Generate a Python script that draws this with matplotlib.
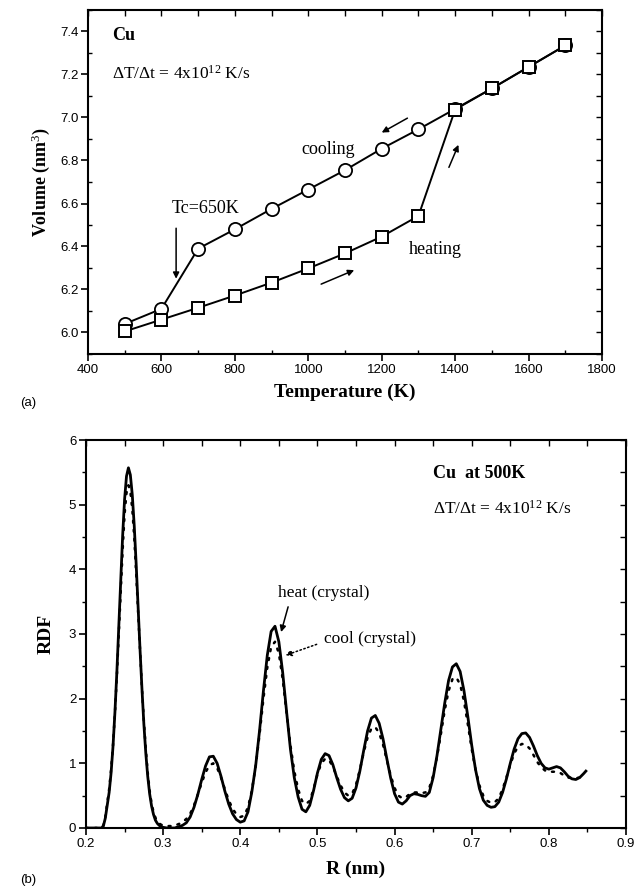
import matplotlib
matplotlib.use("Agg")
import matplotlib.pyplot as plt
from matplotlib.ticker import MultipleLocator

# ---------------- data: panel (a) ----------------
temperature = [500, 600, 700, 800, 900, 1000, 1100, 1200, 1300, 1400, 1500, 1600, 1700]
vol_cooling = [6.04, 6.11, 6.39, 6.48, 6.575, 6.665, 6.755, 6.855, 6.945, 7.04, 7.135, 7.235, 7.335]
vol_heating = [6.005, 6.06, 6.115, 6.172, 6.232, 6.298, 6.368, 6.446, 6.542, 7.037, 7.135, 7.235, 7.335]

# ---------------- data: panel (b) ----------------
r_nm = [0.200, 0.205, 0.210, 0.215, 0.220,
        0.2225, 0.2250, 0.2275, 0.2300, 0.2325, 0.2350, 0.2375, 0.2400, 0.2425, 0.2450,
        0.2475, 0.2500, 0.2525, 0.2550, 0.2575, 0.2600, 0.2625, 0.2650, 0.2675, 0.2700,
        0.2725, 0.2750, 0.2775, 0.2800, 0.2825, 0.2850, 0.2875, 0.2900, 0.2925, 0.2950,
        0.2975, 0.3000,
        0.305, 0.310, 0.315, 0.320, 0.325, 0.330, 0.335, 0.340, 0.345, 0.350,
        0.355, 0.360, 0.365, 0.370, 0.375, 0.380, 0.385, 0.390, 0.395, 0.400,
        0.405, 0.410, 0.415, 0.420, 0.425, 0.430, 0.435, 0.440, 0.445, 0.450,
        0.455, 0.460, 0.465, 0.470, 0.475, 0.480, 0.485, 0.490, 0.495, 0.500,
        0.505, 0.510, 0.515, 0.520, 0.525, 0.530, 0.535, 0.540, 0.545, 0.550,
        0.555, 0.560, 0.565, 0.570, 0.575, 0.580, 0.585, 0.590, 0.595, 0.600,
        0.605, 0.610, 0.615, 0.620, 0.625, 0.630, 0.635, 0.640, 0.645, 0.650,
        0.655, 0.660, 0.665, 0.670, 0.675, 0.680, 0.685, 0.690, 0.695, 0.700,
        0.705, 0.710, 0.715, 0.720, 0.725, 0.730, 0.735, 0.740, 0.745, 0.750,
        0.755, 0.760, 0.765, 0.770, 0.775, 0.780, 0.785, 0.790, 0.795, 0.800,
        0.805, 0.810, 0.815, 0.820, 0.825, 0.830, 0.835, 0.840, 0.845, 0.848]

rdf_heat = [0.0, 0.0, 0.0, 0.0, 0.0,
            0.03, 0.15, 0.35, 0.55, 0.85, 1.26, 1.79, 2.41, 3.12, 3.84,
            4.52, 5.08, 5.44, 5.57, 5.46, 5.15, 4.68, 4.09, 3.43, 2.77,
            2.16, 1.61, 1.16, 0.80, 0.53, 0.34, 0.21, 0.12, 0.07, 0.04,
            0.02, 0.01,
            0.0, 0.0, 0.0, 0.02, 0.04, 0.08, 0.17, 0.32, 0.52, 0.75,
            0.96, 1.10, 1.11, 1.00, 0.80, 0.57, 0.37, 0.22, 0.13, 0.09,
            0.11, 0.25, 0.56, 0.97, 1.51, 2.12, 2.67, 3.04, 3.12, 2.88,
            2.40, 1.80, 1.22, 0.78, 0.48, 0.29, 0.25, 0.35, 0.58, 0.85,
            1.06, 1.15, 1.12, 0.98, 0.78, 0.60, 0.47, 0.42, 0.46, 0.62,
            0.88, 1.20, 1.50, 1.70, 1.74, 1.62, 1.38, 1.07, 0.77, 0.53,
            0.40, 0.37, 0.42, 0.50, 0.53, 0.52, 0.50, 0.49, 0.55, 0.78,
            1.12, 1.52, 1.93, 2.28, 2.49, 2.54, 2.42, 2.12, 1.72, 1.28,
            0.90, 0.61, 0.43, 0.35, 0.32, 0.33, 0.40, 0.55, 0.76, 1.00,
            1.22, 1.38, 1.46, 1.47, 1.40, 1.27, 1.12, 1.00, 0.93, 0.91,
            0.93, 0.95, 0.93, 0.87, 0.80, 0.76, 0.75, 0.78, 0.84, 0.88]

rdf_cool = [0.0, 0.0, 0.0, 0.0, 0.0,
            0.04, 0.17, 0.38, 0.60, 0.90, 1.28, 1.77, 2.35, 3.00, 3.68,
            4.30, 4.85, 5.18, 5.30, 5.20, 4.93, 4.50, 3.95, 3.35, 2.75,
            2.17, 1.66, 1.22, 0.86, 0.58, 0.38, 0.25, 0.16, 0.10, 0.07,
            0.05, 0.04,
            0.03, 0.03, 0.04, 0.06, 0.09, 0.14, 0.22, 0.35, 0.52, 0.70,
            0.86, 0.97, 1.00, 0.93, 0.78, 0.60, 0.43, 0.30, 0.21, 0.17,
            0.19, 0.32, 0.58, 0.96, 1.45, 2.00, 2.48, 2.80, 2.88, 2.70,
            2.30, 1.78, 1.28, 0.88, 0.60, 0.42, 0.37, 0.42, 0.60, 0.83,
            1.00, 1.07, 1.05, 0.95, 0.80, 0.66, 0.55, 0.50, 0.53, 0.67,
            0.90, 1.17, 1.40, 1.54, 1.56, 1.47, 1.29, 1.05, 0.81, 0.62,
            0.50, 0.46, 0.48, 0.53, 0.55, 0.55, 0.54, 0.55, 0.62, 0.81,
            1.10, 1.45, 1.82, 2.12, 2.30, 2.33, 2.22, 1.96, 1.60, 1.22,
            0.90, 0.66, 0.50, 0.42, 0.39, 0.40, 0.46, 0.60, 0.78, 0.98,
            1.15, 1.26, 1.30, 1.29, 1.23, 1.13, 1.02, 0.94, 0.89, 0.87,
            0.87, 0.87, 0.85, 0.81, 0.78, 0.77, 0.77, 0.78, None, None]

SERIF = ["Liberation Serif", "DejaVu Serif"]
SANS = ["Liberation Sans", "DejaVu Sans"]
plt.rcParams["font.family"] = SANS
plt.rcParams["mathtext.fontset"] = "custom"
plt.rcParams["mathtext.rm"] = "Liberation Serif"
plt.rcParams["mathtext.it"] = "Liberation Serif:italic"

fig = plt.figure(figsize=(6.39, 8.92), dpi=100)
ax1 = fig.add_axes([88 / 639, 1 - 354 / 892, 514 / 639, 344 / 892])
ax2 = fig.add_axes([86 / 639, 1 - 828 / 892, 540 / 639, 388 / 892])


def style_axes(ax, left_minor_out=False):
    for s in ax.spines.values():
        s.set_linewidth(1.5)
    ax.tick_params(which="major", direction="out", length=5, width=1.2,
                   labelsize=9.5, pad=2, top=False, right=False)
    ax.tick_params(which="minor", direction="out" if left_minor_out else "in",
                   length=3, width=1.0, top=False, right=False)
    for lab in ax.get_xticklabels() + ax.get_yticklabels():
        lab.set_family(SANS)
    tw = ax.twinx()
    tw.set_ylim(ax.get_ylim())
    tw.yaxis.set_major_locator(ax.yaxis.get_minor_locator())
    tw.tick_params(axis="y", direction="in", length=4, width=1.0, labelright=False)
    tw.spines[:].set_visible(False)
    ty = ax.twiny()
    ty.set_xlim(ax.get_xlim())
    ty.xaxis.set_major_locator(ax.xaxis.get_minor_locator())
    ty.tick_params(axis="x", direction="in", length=4, width=1.0, labeltop=False)
    ty.spines[:].set_visible(False)


# ---------------- panel (a) ----------------
ax1.plot(temperature, vol_cooling, "-", color="black", lw=1.4, marker="o", ms=9.5,
         mfc="white", mec="black", mew=1.3, zorder=3)
ax1.plot(temperature, vol_heating, "-", color="black", lw=1.4, marker="s", ms=8.5,
         mfc="white", mec="black", mew=1.4, zorder=4)
ax1.set_xlim(400, 1800)
ax1.set_ylim(5.9, 7.5)
ax1.xaxis.set_major_locator(MultipleLocator(200))
ax1.xaxis.set_minor_locator(MultipleLocator(100))
ax1.yaxis.set_major_locator(MultipleLocator(0.2))
ax1.yaxis.set_minor_locator(MultipleLocator(0.1))
ax1.yaxis.set_major_formatter(matplotlib.ticker.FormatStrFormatter("%.1f"))
ax1.set_xlabel("Temperature (K)", family=SERIF, fontweight="bold", fontsize=14, labelpad=6)
ax1.set_ylabel("Volume (nm$^3$)", family=SERIF, fontweight="bold", fontsize=13, labelpad=6)
style_axes(ax1)

ax1.text(0.047, 0.925, "Cu", transform=ax1.transAxes, family=SERIF,
         fontweight="bold", fontsize=13, va="center", ha="left")
ax1.text(0.047, 0.815, r"$\Delta$T/$\Delta$t = 4x10$^{12}$ K/s", transform=ax1.transAxes,
         family=SERIF, fontsize=12.5, va="center", ha="left")
ax1.text(1055, 6.85, "cooling", family=SERIF, fontsize=13, ha="center", va="center")
ax1.text(1345, 6.385, "heating", family=SERIF, fontsize=13, ha="center", va="center")
ax1.text(720, 6.575, "Tc=650K", family=SERIF, fontsize=13, ha="center", va="center")

arrow_kw = dict(arrowstyle="-|>", color="black", lw=1.1, mutation_scale=9,
                shrinkA=0, shrinkB=0)
ax1.annotate("", xy=(640, 6.25), xytext=(640, 6.485), arrowprops=arrow_kw)
ax1.annotate("", xy=(1200, 6.93), xytext=(1270, 6.997), arrowprops=arrow_kw)
ax1.annotate("", xy=(1125, 6.29), xytext=(1035, 6.225), arrowprops=arrow_kw)
ax1.annotate("", xy=(1409, 6.873), xytext=(1383, 6.768), arrowprops=arrow_kw)

# ---------------- panel (b) ----------------
ax2.plot(r_nm, rdf_heat, "-", color="black", lw=2.0, zorder=3)
r_cool = [r for r, v in zip(r_nm, rdf_cool) if v is not None]
v_cool = [v for v in rdf_cool if v is not None]
ax2.plot(r_cool, v_cool, color="black", lw=1.8, linestyle=(0, (0.8, 2.8)),
         dash_capstyle="round", zorder=2)
ax2.set_xlim(0.2, 0.9)
ax2.set_ylim(0, 6)
ax2.xaxis.set_major_locator(MultipleLocator(0.1))
ax2.xaxis.set_minor_locator(MultipleLocator(0.05))
ax2.yaxis.set_major_locator(MultipleLocator(1))
ax2.yaxis.set_minor_locator(MultipleLocator(0.5))
ax2.xaxis.set_major_formatter(matplotlib.ticker.FuncFormatter(lambda v, p: f"{v:.1f}"))
ax2.yaxis.set_major_formatter(matplotlib.ticker.FuncFormatter(lambda v, p: f"{v:.0f}"))
ax2.set_xlabel("R (nm)", family=SERIF, fontweight="bold", fontsize=14, labelpad=8)
ax2.set_ylabel("RDF", family=SERIF, fontweight="bold", fontsize=14, labelpad=10)
style_axes(ax2, left_minor_out=True)

ax2.text(0.650, 5.48, "Cu  at 500K", family=SERIF, fontweight="bold", fontsize=13,
         ha="left", va="center")
ax2.text(0.650, 4.94, r"$\Delta$T/$\Delta$t = 4x10$^{12}$ K/s", family=SERIF,
         fontsize=12.5, ha="left", va="center")
ax2.text(0.449, 3.64, "heat (crystal)", family=SERIF, fontsize=12.5, ha="left", va="center")
ax2.text(0.508, 2.93, "cool (crystal)", family=SERIF, fontsize=12.5, ha="left", va="center")
ax2.annotate("", xy=(0.4529, 3.03), xytext=(0.462, 3.42), arrowprops=arrow_kw)
ax2.annotate("", xy=(0.4584, 2.67), xytext=(0.499, 2.84),
             arrowprops=dict(arrowstyle="-|>", color="black", lw=1.1, mutation_scale=9,
                             linestyle=":", shrinkA=0, shrinkB=0))

fig.text(20 / 639, 1 - 403 / 892, "(a)", family=SANS, fontsize=9.5, ha="left", va="center")
fig.text(20 / 639, 1 - 880 / 892, "(b)", family=SANS, fontsize=9.5, ha="left", va="center")

fig.savefig("out.png", dpi=100)
